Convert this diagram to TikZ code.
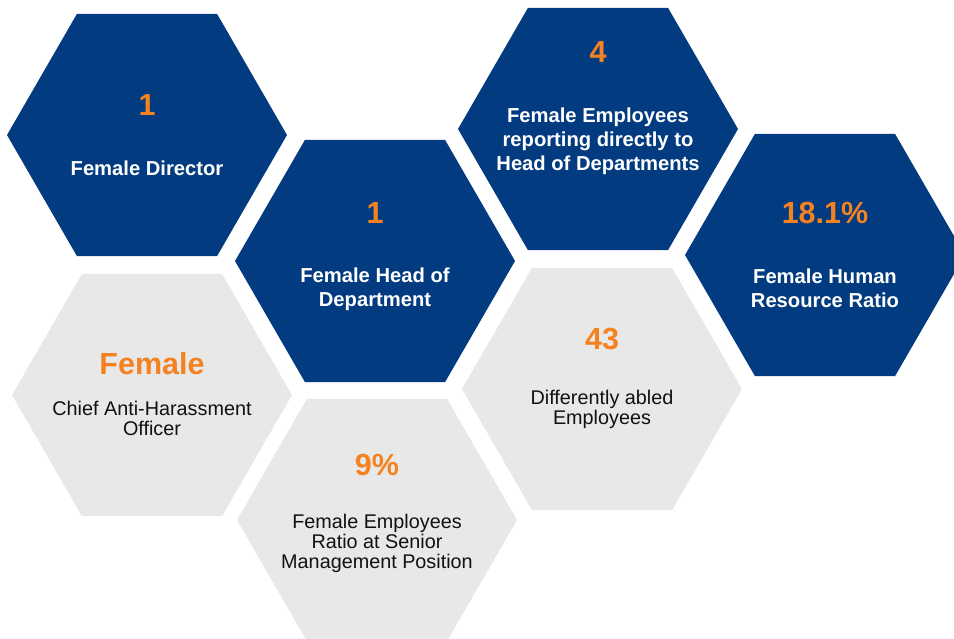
\documentclass[tikz,border=0pt]{standalone}
\usepackage{fontspec}
\setmainfont{Liberation Sans}
\usepackage{xcolor}
\usepackage{tikz}
\usetikzlibrary{calc,shapes.geometric}
\definecolor{navy}{HTML}{033B80}
\definecolor{amber}{HTML}{F58220}
\definecolor{pale}{HTML}{E8E8E8}
\definecolor{ink}{HTML}{111111}
\tikzset{
  hexa/.style={regular polygon, regular polygon sides=6, minimum size=280pt, inner sep=0pt, outer sep=0pt, draw=none},
  hexb/.style={hexa, fill=navy},
  hexg/.style={hexa, fill=pale},
  num/.style={text=amber, font=\fontsize{30.5}{32}\selectfont\bfseries},
  labw/.style={text=white, font=\fontsize{20.2}{24}\selectfont\bfseries, align=center},
  labk/.style={text=ink, font=\fontsize{19.8}{20}\selectfont, align=center},
}
\begin{document}
\begin{tikzpicture}[x=1pt,y=-1pt]
  \useasboundingbox (0,0) rectangle (954,639);
  \coordinate (D) at (147,135);
  \coordinate (H) at (375,261);
  \coordinate (R) at (598,129);
  \coordinate (P) at (825,255);
  \coordinate (C) at (152,395);
  \coordinate (S) at (377,520);
  \coordinate (A) at (602,389);

  % blue cells
  \node[hexb] (hD) at (D) {};
  \node[hexb] (hH) at (H) {};
  \node[hexb] (hR) at (R) {};
  \node[hexb] (hP) at (P) {};
  % grey cells
  \node[hexg] (hC) at (C) {};
  \node[hexg] (hS) at (S) {};
  \node[hexg] (hA) at (A) {};

  \node[num] (nD) at ($(D)+(0,-30)$) {1};
  \node[labw] (tD) at ($(D)+(0,33)$) {Female Director};
  \node[num] (nH) at ($(H)+(0,-48)$) {1};
  \node[labw] (tH) at ($(H)+(0,28.5)$) {Female Head of\\Department};
  \node[num] (nR) at ($(R)+(0,-77)$) {4};
  \node[labw] (tR) at ($(R)+(0,12)$) {Female Employees\\reporting directly to\\Head of Departments};
  \node[num] (nP) at ($(P)+(0,-42)$) {18.1\%};
  \node[labw] (tP) at ($(P)+(0,33.5)$) {Female Human\\Resource Ratio};

  \node[num] (nC) at ($(C)+(0,-31)$) {Female};
  \node[labk] (tC) at ($(C)+(0,23)$) {Chief Anti-Harassment\\Officer};
  \node[num] (nS) at ($(S)+(0,-55)$) {9\%};
  \node[labk] (tS) at ($(S)+(0,23)$) {Female Employees\\Ratio at Senior\\Management Position};
  \node[num] (nA) at ($(A)+(0,-50)$) {43};
  \node[labk] (tA) at ($(A)+(0,20)$) {Differently abled\\Employees};
\end{tikzpicture}
\end{document}
